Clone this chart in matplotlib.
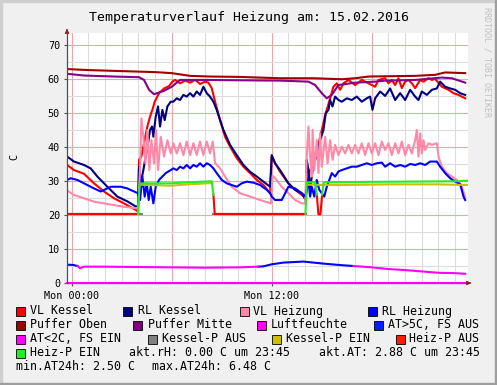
import numpy as np
import matplotlib
matplotlib.use('Agg')
import matplotlib.pyplot as plt
from matplotlib.patches import Rectangle

nan = np.nan

# Zeit in Stunden (Mon 00:00 = 0), Werte in C
vl_kessel_t = [-0.28, 0.14, 0.74, 1.34, 1.94, 2.54, 3.14, 3.84, 3.98, 4.04, 4.18, 4.34, 4.54, 4.70,
               4.84, 4.98, 5.24, 5.54, 5.84, 6.04, 6.2, 6.5, 6.8, 7.1, 7.4, 7.7, 8.0, 8.2, 8.4, 8.6,
               8.9, 9.2, 9.5, 9.9, 10.3, 10.7, 11.1, 11.5, 11.9, 12.0, 12.2, 12.5, 12.99, 13.4, 13.8,
               14.04, 14.1, 14.2, 14.3, 14.5, 14.7, 14.9, 15.1, 15.2, 15.36, 15.5, 15.7, 15.9, 16.1,
               16.3, 16.6, 17.0, 17.4, 17.8, 18.2, 18.4, 18.8, 19.0, 19.2, 19.4, 19.6, 19.8, 20.0,
               20.2, 20.4, 20.6, 20.9, 21.1, 21.4, 21.6, 21.8, 22.2, 22.6, 22.9, 23.2, 23.6]
vl_kessel_v = [34.7, 33.2, 32.1, 29.3, 26.9, 24.9, 23.4, 21.5, 21.0, 36.2, 37.2, 41.1, 46.0, 48.9,
               50.9, 53.3, 55.8, 57.2, 57.9, 59.2, 59.7, 58.7, 59.5, 58.9, 59.7, 58.5, 59.2, 58.9, 57.3, 53.3,
               47.9, 43.0, 40.1, 36.7, 34.2, 32.3, 30.3, 28.8, 26.4, 37.2, 35.2, 32.7, 29.3, 27.4, 25.9,
               24.9, 28.3, 31.3, 33.2, 35.2, 38.1, 43.0, 47.0, 49.4, 51.9, 54.3, 57.7, 58.7, 56.8,
               58.7, 59.7, 58.2, 59.7, 58.7, 57.7, 59.7, 60.2, 58.7, 59.7, 58.2, 60.2, 57.3, 59.2,
               59.7, 58.7, 57.3, 59.7, 59.2, 60.2, 59.7, 60.0, 57.7, 56.8, 55.8, 55.3, 54.3]

rl_kessel_t = [-0.28, 0.14, 0.74, 1.14, 1.54, 2.14, 2.74, 3.34, 3.84, 3.98, 4.04, 4.14, 4.30, 4.44,
               4.58, 4.70, 4.82, 4.90, 5.04, 5.18, 5.30, 5.44, 5.58, 5.74, 5.94, 6.1, 6.3, 6.5, 6.7,
               6.9, 7.1, 7.3, 7.5, 7.7, 7.9, 8.1, 8.3, 8.5, 8.7, 8.9, 9.1, 9.5, 9.9, 10.3, 10.7, 11.1,
               11.5, 11.9, 12.0, 12.2, 12.5, 13.0, 13.4, 13.8, 14.04, 14.1, 14.2, 14.3, 14.5, 14.7,
               14.9, 15.1, 15.24, 15.4, 15.5, 15.64, 15.8, 16.0, 16.2, 16.5, 16.8, 17.1, 17.4, 17.7,
               17.9, 18.04, 18.2, 18.5, 18.8, 19.1, 19.4, 19.7, 20.0, 20.3, 20.6, 20.8, 21.0, 21.3,
               21.6, 21.9, 22.1, 22.4, 22.7, 23.0, 23.3, 23.6]
rl_kessel_v = [37.2, 35.7, 34.7, 33.7, 31.3, 28.3, 25.4, 24.0, 22.5, 22.5, 34.2, 29.3, 33.2, 37.2,
               41.1, 45.0, 46.0, 43.0, 48.9, 51.9, 46.0, 50.9, 47.9, 51.9, 53.3, 53.3, 54.3, 53.8, 55.3,
               54.8, 55.8, 54.8, 56.3, 55.3, 57.7, 55.8, 54.8, 53.3, 50.9, 47.9, 45.0, 40.6, 37.6, 34.7,
               32.7, 31.3, 29.8, 28.3, 37.6, 35.2, 33.2, 29.3, 27.4, 26.4, 24.4, 36.2, 33.2, 27.4,
               35.2, 37.2, 42.0, 45.0, 49.9, 50.9, 53.8, 51.9, 54.8, 53.8, 53.3, 54.3, 53.8, 54.8,
               53.3, 54.3, 54.8, 50.9, 54.3, 56.3, 55.0, 57.2, 53.8, 55.8, 53.8, 56.8, 54.8, 53.8,
               56.3, 55.3, 56.8, 57.2, 59.2, 57.7, 57.2, 56.8, 55.8, 55.3]

vl_heizung_t = [-0.28, 0.14, 0.74, 1.34, 1.94, 2.54, 3.14, 3.84, 3.98, 4.10, 4.18, 4.30, 4.42, 4.54,
                4.66, 4.78, 4.94, 5.06, 5.18, 5.34, 5.54, 5.74, 5.94, 6.1, 6.3, 6.5, 6.7, 6.9, 7.1, 7.3,
                7.5, 7.7, 7.9, 8.1, 8.3, 8.46, 8.6, 8.9, 9.2, 9.6, 10.1, 10.7, 11.3, 11.95, 12.05, 12.2,
                12.6, 13.0, 13.4, 13.8, 14.0, 14.1, 14.2, 14.3, 14.4, 14.45, 14.55, 14.7, 14.8, 14.9,
                15.0, 15.2, 15.35, 15.5, 15.65, 15.8, 16.0, 16.2, 16.4, 16.6, 16.8, 17.0, 17.2, 17.4,
                17.6, 17.8, 18.0, 18.2, 18.4, 18.6, 18.8, 19.0, 19.2, 19.4, 19.6, 19.8, 20.0, 20.2,
                20.4, 20.6, 20.7, 20.8, 20.9, 21.0, 21.1, 21.2, 21.4, 21.6, 21.9, 22.0, 22.2, 22.5,
                22.8, 23.1, 23.4, 23.6]
vl_heizung_v = [27.2, 25.9, 24.9, 23.9, 23.4, 22.9, 22.4, 22.0, 22.0, 33.2, 48.4, 43.0, 35.2, 45.0,
                33.2, 42.0, 35.2, 45.0, 33.2, 43.0, 37.2, 42.0, 38.1, 41.1, 38.1, 41.1, 37.6, 41.6, 37.6,
                41.1, 37.6, 41.6, 37.6, 41.6, 38.1, 41.6, 35.2, 33.7, 31.3, 28.3, 26.4, 25.4, 24.4,
                23.4, 31.5, 30.8, 28.3, 26.4, 24.4, 23.4, 23.4, 37.2, 46.0, 37.2, 31.3, 45.0, 33.2,
                42.0, 32.3, 44.0, 34.2, 43.0, 35.2, 42.0, 36.2, 40.6, 37.6, 40.1, 38.1, 40.6, 38.1,
                40.6, 38.1, 41.1, 37.6, 41.1, 38.1, 41.1, 37.6, 41.6, 39.1, 41.1, 37.6, 41.1, 38.1,
                41.6, 37.6, 40.6, 38.1, 42.0, 45.0, 37.2, 44.0, 38.1, 42.0, 39.1, 41.1, 40.6, 41.1,
                37.2, 34.2, 32.3, 31.3, 30.3, 28.3, 25.4]

rl_heizung_t = [-0.28, -0.06, 0.34, 0.74, 1.34, 1.74, 2.34, 2.94, 3.34, 3.74, 3.98, 4.10, 4.24, 4.38,
                4.50, 4.62, 4.74, 4.90, 5.04, 5.24, 5.44, 5.64, 5.94, 6.1, 6.3, 6.5, 6.7, 6.9, 7.1, 7.3,
                7.5, 7.7, 7.9, 8.1, 8.3, 8.5, 8.7, 9.0, 9.3, 9.6, 9.9, 10.2, 10.5, 10.9, 11.3, 11.7,
                11.9, 12.0, 12.2, 12.6, 13.0, 13.4, 13.8, 14.04, 14.1, 14.2, 14.3, 14.4, 14.55, 14.7,
                14.85, 15.0, 15.15, 15.3, 15.45, 15.6, 15.8, 16.0, 16.2, 16.5, 16.8, 17.1, 17.4, 17.7,
                18.0, 18.3, 18.6, 18.8, 19.1, 19.4, 19.7, 20.0, 20.3, 20.6, 20.9, 21.2, 21.5, 21.9,
                22.1, 22.4, 22.7, 23.0, 23.3, 23.5, 23.6]
rl_heizung_v = [30.3, 30.8, 30.3, 29.3, 27.8, 26.9, 28.3, 28.3, 27.8, 26.9, 26.4, 24.4, 31.3, 25.4,
                29.3, 24.4, 28.3, 23.4, 28.3, 30.3, 31.3, 32.3, 33.2, 33.7, 33.2, 34.2, 33.7, 34.7, 33.7,
                34.7, 34.2, 35.2, 34.2, 35.2, 34.7, 33.7, 32.3, 30.3, 29.3, 28.8, 28.3, 29.3, 29.8, 29.5,
                28.8, 27.4, 26.4, 25.4, 24.4, 24.4, 28.3, 27.8, 26.4, 25.4, 27.4, 30.3, 25.4, 28.3,
                25.4, 30.3, 27.4, 26.4, 25.4, 28.3, 30.3, 32.3, 31.3, 32.8, 33.2, 33.7, 34.2, 34.2,
                34.7, 35.2, 34.7, 35.2, 35.4, 34.2, 35.2, 34.2, 34.7, 34.2, 35.0, 34.7, 35.2, 34.7,
                35.7, 35.7, 34.2, 32.3, 30.8, 29.8, 29.1, 25.4, 24.4]

puffer_oben_t = [-0.28, 1.0, 3.0, 5.0, 6.0, 7.1, 8.3, 10.0, 12.5, 14.5, 16.2, 17.0, 17.8, 20.6, 21.8,
                 22.4, 23.6]
puffer_oben_v = [62.9, 62.6, 62.3, 62.0, 61.7, 60.9, 60.7, 60.6, 60.2, 60.2, 59.9, 60.2, 60.7, 60.9,
                 61.2, 61.9, 61.7]

puffer_mitte_t = [-0.28, 0.74, 2.54, 4.04, 4.34, 4.64, 4.94, 5.54, 6.0, 6.5, 8.0, 10.0, 12.5, 14.2,
                  14.6, 15.0, 15.3, 15.6, 16.0, 17.0, 18.2, 18.8, 20.6, 22.2, 22.8, 23.6]
puffer_mitte_v = [61.5, 61.0, 60.7, 60.5, 59.7, 56.8, 55.5, 56.5, 57.7, 59.7, 59.7, 59.6, 59.5, 59.2,
                  58.2, 55.8, 54.3, 55.3, 58.2, 58.9, 59.2, 59.5, 59.7, 60.4, 60.2, 58.9]

luftfeuchte_t = [-0.28, 23.77]
luftfeuchte_v = [0.0, 0.0]

# Aussentemperatur, Farbe je nach Zustand
at_aus_t = [-0.28, 0.1, 0.35, nan, 11.2, 11.5, 12.0, 12.7, 13.5, 13.9, 14.5, 15.1, 15.8, 16.3, 16.9]
at_aus_v = [5.4, 5.3, 5.0, nan, 4.8, 4.9, 5.5, 6.0, 6.2, 6.3, 6.0, 5.7, 5.4, 5.2, 5.0]
at_ein_t = [0.35, 0.5, 0.7, 2.0, 4.0, 6.0, 8.0, 10.0, 11.2, nan, 16.9, 18.0, 19.0, 20.0, 21.0, 22.0,
            23.0, 23.6]
at_ein_v = [5.0, 4.3, 4.8, 4.8, 4.7, 4.6, 4.5, 4.6, 4.8, nan, 5.0, 4.6, 4.1, 3.8, 3.4, 3.0, 2.9, 2.7]

kesselp_aus_t = [-0.28, 4.2, nan, 8.45, 14.08]
kesselp_aus_v = [20.2, 20.2, nan, 20.2, 20.2]
kesselp_ein_t = [4.2, 5.9, 7.0, 8.42, nan, 14.1, 16.0, 19.0, 22.0, 23.77]
kesselp_ein_v = [28.9, 28.6, 29.0, 29.4, nan, 28.9, 28.8, 29.0, 29.0, 28.8]

heizp_aus_t = [-0.28, 3.98, nan, 8.5, 8.58, 14.02, nan, 14.7, 14.8, 14.92, 15.02]
heizp_aus_v = [20.3, 20.3, nan, 25.9, 20.3, 20.3, nan, 26.0, 20.2, 20.2, 26.0]
heizp_ein_t = [3.98, 4.08, 5.9, 7.0, 8.4, 8.5, nan, 14.02, 14.1, 14.6, 14.7, nan, 15.02, 15.12, 17.0,
               20.0, 23.0, 23.77]
heizp_ein_v = [20.3, 29.3, 29.3, 29.6, 29.9, 25.9, nan, 20.3, 29.6, 29.6, 26.0, nan, 26.0, 29.6, 29.7,
               29.8, 29.9, 30.1]

legend_rows = [
    [('VL Kessel', '#FF0000', 16, 30), ('RL Kessel', '#000080', 123, 138),
     ('VL Heizung', '#FF88A8', 240, 253), ('RL Heizung', '#0000FF', 368, 382)],
    [('Puffer Oben', '#A00000', 16, 30), ('Puffer Mitte', '#800080', 133, 148),
     ('Luftfeuchte', '#FF00FF', 257, 271), ('AT>5C, FS AUS', '#0022FF', 374, 388)],
    [('AT<2C, FS EIN', '#FF00FF', 16, 30), ('Kessel-P AUS', '#808080', 148, 162),
     ('Kessel-P EIN', '#CCC000', 272, 286), ('Heiz-P AUS', '#FF1A00', 396, 409)],
    [('Heiz-P EIN', '#22EE22', 16, 30)],
]
info_texts = [('akt.rH: 0.00 C um 23:45', 129, 353), ('akt.AT: 2.88 C um 23:45', 319, 353),
              ('min.AT24h: 2.50 C', 16, 367), ('max.AT24h: 6.48 C', 152, 367)]

W, H = 497, 385
mono = 'DejaVu Sans Mono'
fig = plt.figure(figsize=(W / 100, H / 100), dpi=100, facecolor='#F0F0F0')

# Rahmen
fig.patches.append(Rectangle((0, 0), 2 / W, 1, transform=fig.transFigure, color='#CFCFCF'))
fig.patches.append(Rectangle((0, 1 - 2 / H), 1, 2 / H, transform=fig.transFigure, color='#CFCFCF'))
fig.patches.append(Rectangle((1 - 2 / W, 0), 2 / W, 1, transform=fig.transFigure, color='#9E9E9E'))
fig.patches.append(Rectangle((0, 0), 1, 2 / H, transform=fig.transFigure, color='#9E9E9E'))

x0, x1, y0, y1 = 67, 468, 283, 33
ax = fig.add_axes([x0 / W, 1 - y0 / H, (x1 - x0) / W, (y0 - y1) / H])
ax.set_facecolor('white')
ax.set_xlim(-0.28, 23.77)
ax.set_ylim(0, 73.5)
for s in ax.spines.values():
    s.set_visible(False)

# Gitter
for h in range(0, 24):
    col = '#E8A8A8' if h % 6 == 0 else '#DCDCDC'
    ax.axvline(h, color=col, lw=0.8, zorder=0)
for v in range(5, 75, 5):
    col = '#E8A8A8' if v % 10 == 0 else '#DCDCDC'
    ax.axhline(v, color=col, lw=0.8, zorder=0)

lw = 1.5
ax.plot(vl_kessel_t, vl_kessel_v, color='#FF0000', lw=lw)
ax.plot(rl_kessel_t, rl_kessel_v, color='#000080', lw=lw)
ax.plot(vl_heizung_t, vl_heizung_v, color='#FF88A8', lw=lw)
ax.plot(rl_heizung_t, rl_heizung_v, color='#0000FF', lw=lw)
ax.plot(puffer_oben_t, puffer_oben_v, color='#A00000', lw=lw)
ax.plot(puffer_mitte_t, puffer_mitte_v, color='#880088', lw=lw)
ax.plot(luftfeuchte_t, luftfeuchte_v, color='#FF00FF', lw=lw, clip_on=False)
ax.plot(at_aus_t, at_aus_v, color='#0000FF', lw=lw)
ax.plot(at_ein_t, at_ein_v, color='#FF00FF', lw=lw)
ax.plot(kesselp_aus_t, kesselp_aus_v, color='#808080', lw=lw)
ax.plot(kesselp_ein_t, kesselp_ein_v, color='#CCC000', lw=lw)
ax.plot(heizp_aus_t, heizp_aus_v, color='#FF0000', lw=lw)
ax.plot(heizp_ein_t, heizp_ein_v, color='#22EE22', lw=lw)

# Achsen mit Pfeilen
ax.plot([-0.28, -0.28], [0, 73.5], color='#505050', lw=0.9, clip_on=False, zorder=5)
ax.plot([-0.28, 23.77], [0, 0], color='#505050', lw=0.9, clip_on=False, zorder=1)
ax.annotate('', xy=(x0 / W, 1 - 26 / H), xytext=(x0 / W, 1 - 33 / H), xycoords='figure fraction',
            arrowprops=dict(arrowstyle='-|>', color='#8B2020', lw=0.8, mutation_scale=6))
ax.annotate('', xy=(474 / W, 1 - y0 / H), xytext=(467 / W, 1 - y0 / H), xycoords='figure fraction',
            arrowprops=dict(arrowstyle='-|>', color='#8B2020', lw=0.8, mutation_scale=6))

ax.set_yticks(range(0, 80, 10))
ax.set_xticks([0, 12])
ax.set_xticklabels(['Mon 00:00', 'Mon 12:00'])
ax.tick_params(axis='y', length=2, pad=3, labelsize=7.3, colors='#505050', labelcolor='black')
ax.tick_params(axis='x', length=2, pad=4, labelsize=7.3, colors='#505050', labelcolor='black')
for lab in ax.get_xticklabels() + ax.get_yticklabels():
    lab.set_family(mono)

fig.text(14 / W, 1 - 157 / H, 'C', rotation=90, family=mono, fontsize=7.3, ha='center', va='center')
fig.text(249 / W, 1 - 17 / H, 'Temperaturverlauf Heizung am: 15.02.2016', family=mono,
         fontsize=9.5, ha='center', va='center')
fig.text(487 / W, 1 - 7 / H, 'RRDTOOL / TOBI OETIKER', family=mono, fontsize=6, color='#C0C0C0',
         rotation=-90, ha='center', va='top')

# Legende
row_y = [311, 325, 339, 353, 367]
for r, items in enumerate(legend_rows):
    y = row_y[r]
    for name, col, bx, tx in items:
        fig.patches.append(Rectangle((bx / W, 1 - (y + 4.5) / H), 9 / W, 9 / H, transform=fig.transFigure,
                                     facecolor=col, edgecolor='black', lw=0.6))
        fig.text(tx / W, 1 - y / H, name, family=mono, fontsize=8.4, ha='left', va='center')
for txt, tx, y in info_texts:
    fig.text(tx / W, 1 - y / H, txt, family=mono, fontsize=8.4, ha='left', va='center')

fig.savefig('out.png', dpi=100, facecolor=fig.get_facecolor())
